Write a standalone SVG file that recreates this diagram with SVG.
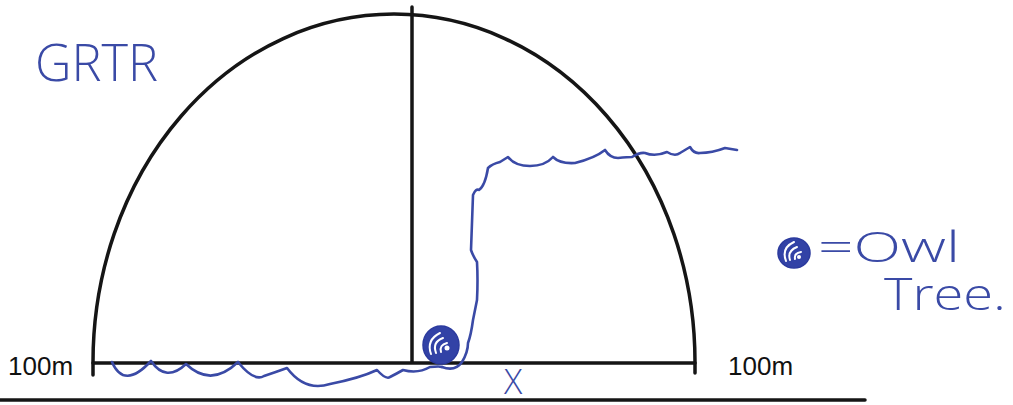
<svg xmlns="http://www.w3.org/2000/svg" width="1013" height="405" viewBox="0 0 1013 405">
<style>
.ink{fill:none;stroke:#151515;stroke-width:3.5;stroke-linecap:round;stroke-linejoin:round}
.pen{fill:none;stroke:#3a4aa6;stroke-width:2.6;stroke-linecap:round;stroke-linejoin:round}
.lbl{font-family:"Liberation Sans",Arial,sans-serif;font-size:26px;fill:#111}
.hand{font-family:"Open Sans","Liberation Sans",sans-serif;font-weight:300;fill:#3a4aa6}
.owl{fill:#3242a6;stroke:#2b3a9e;stroke-width:1.5}
.swirl{fill:none;stroke:#ffffff;stroke-width:2;stroke-linecap:round}
</style>
<rect width="1013" height="405" fill="#ffffff"/>
<g id="field">
<path class="ink" d="M93,375 L93,362 A301,348 0 0 1 695,362 L695,373"/>
<line class="ink" x1="412" y1="7" x2="412" y2="362"/>
<line class="ink" x1="93" y1="363" x2="695" y2="363"/>
<line class="ink" x1="0" y1="400" x2="865" y2="400"/>
</g>
<g id="labels">
<text class="lbl" x="8" y="375">100m</text>
<text class="lbl" x="728" y="375">100m</text>
<text class="hand" x="35" y="81" font-size="52" textLength="123" lengthAdjust="spacingAndGlyphs">GRTR</text>
<text class="hand" x="504" y="394" font-size="34">X</text>
</g>
<g id="connectors">
<path class="pen" d="M112,362 Q124,390 151,361 Q166,383 186,364 Q211,388 238,362 Q254,382 264,376 Q276,372 287,368 Q305,392 330,384 Q360,378 377,370 Q386,380 390,377 Q396,374 403,370 Q418,374 430,367 Q440,366 442,367"/>
<path class="pen" d="M442,367 Q455,372 462,362 Q468,352 468,343 Q471,335 473,320 L477,300 Q478,280 477,262 Q473,256 471,250 L473,195 Q476,188 479,190 Q485,186 488,168 Q492,164 500,162 L508,157 Q515,166 530,166 Q545,166 553,157 Q560,164 575,163 Q595,158 605,150 Q610,158 618,158 Q628,157 632,157 Q640,152 645,153 Q655,157 667,152 Q675,157 680,153 L690,147 Q694,154 700,153 Q712,153 725,148 L737,150"/>
</g>
<g id="owl-tree">
<ellipse class="owl" cx="441" cy="345" rx="18" ry="19"/>
<path class="swirl" d="M431,354 Q426,340 440,333 M436,353 Q432,342 443,338 M441,352 Q439,345 447,343"/>
<circle cx="447" cy="348" r="2.5" fill="#fff"/>
</g>
<g id="legend">
<ellipse class="owl" cx="794" cy="253" rx="16" ry="15"/>
<path class="swirl" d="M786,261 Q781,248 794,242 M790,260 Q787,251 797,247 M795,259 Q794,253 801,252"/>
<circle cx="799" cy="257" r="2" fill="#fff"/>
<text class="hand" x="818" y="262" font-size="42" textLength="142" lengthAdjust="spacingAndGlyphs">=Owl</text>
<text class="hand" x="884" y="310" font-size="44" textLength="122" lengthAdjust="spacingAndGlyphs">Tree.</text>
</g>
</svg>
